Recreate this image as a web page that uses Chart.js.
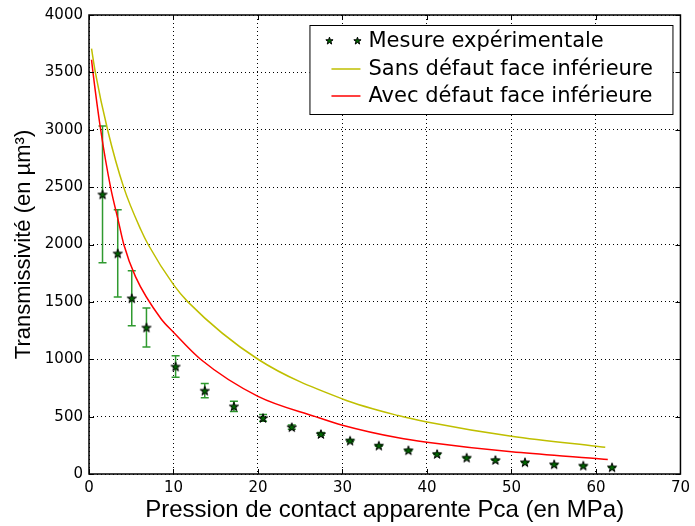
<!DOCTYPE html>
<html>
<head>
<meta charset="utf-8">
<script src="https://cdn.jsdelivr.net/npm/chart.js@4.4.0/dist/chart.umd.min.js"></script>
<style>
    html, body { margin: 0; padding: 0; background: #fff; }
    #chart { display: block; }
</style>
</head>
<body>
<canvas id="chart" width="695" height="526"></canvas>
<script>
const pressionMesure = [1.6, 3.4, 5.06, 6.8, 10.25, 13.7, 17.15, 20.6, 24.0, 27.45, 30.9, 34.3, 37.8, 41.2, 44.7, 48.1, 51.6, 55.05, 58.5, 61.9];
const transMesure = [2437, 1923, 1532, 1277, 937, 727, 590, 489, 409, 349, 291, 248, 207, 175, 143, 123, 103, 85, 74, 59];
const erreurMesure = [596, 380, 240, 170, 94, 62, 45, 30, 18, 12, 9, 7, 6, 5, 4, 4, 3, 3, 3, 3];

// Modèle sans défaut face inférieure
const pressionSans = [0.3, 0.75, 2.2, 4.1, 6.15, 7.0, 10, 11.7, 20, 30, 36.6, 40, 50, 60, 61.1];
const transSans = [3706, 3500, 3000, 2500, 2126, 2000, 1650, 1500, 1000, 654, 509, 454, 329, 242, 233];

// Modèle avec défaut face inférieure
const pressionAvec = [0.3, 0.47, 1.38, 2.55, 3.45, 4.12, 5.5, 8.5, 10, 13.2, 20, 26.8, 30, 36.6, 40, 50, 60, 61.4];
const transAvec = [3610, 3500, 3000, 2500, 2213, 2000, 1720, 1355, 1235, 1000, 677, 500, 425, 315, 277, 193, 135, 126];

const xTicks = [0, 10, 20, 30, 40, 50, 60, 70];
const yTicks = [0, 500, 1000, 1500, 2000, 2500, 3000, 3500, 4000];

const labels = ['Mesure expérimentale', 'Sans défaut face inférieure', 'Avec défaut face inférieure'];

function drawStar(ctx, cx, cy, r, fill) {
    ctx.beginPath();
    for (let i = 0; i < 10; i++) {
        const rad = i % 2 === 0 ? r : r * 0.4;
        const a = -Math.PI / 2 + i * Math.PI / 5;
        const px = cx + rad * Math.cos(a);
        const py = cy + rad * Math.sin(a);
        if (i === 0) ctx.moveTo(px, py); else ctx.lineTo(px, py);
    }
    ctx.closePath();
    ctx.fillStyle = fill;
    ctx.fill();
    ctx.lineWidth = 1;
    ctx.strokeStyle = '#000';
    ctx.stroke();
}

function makeStar(r) {
    const c = document.createElement('canvas');
    const s = Math.ceil(r * 2 + 4);
    c.width = s;
    c.height = s;
    drawStar(c.getContext('2d'), s / 2, s / 2 + 0.5, r, '#006400');
    return c;
}

const starImg = makeStar(4.8);

// barres d'erreur sous les étoiles
const errorBars = {
    id: 'errorBars',
    beforeDatasetsDraw(chart) {
        const {ctx, scales: {x, y}} = chart;
        ctx.save();
        ctx.strokeStyle = '#2f9a2f';
        ctx.lineWidth = 1.5;
        pressionMesure.forEach((p, i) => {
            const px = x.getPixelForValue(p);
            const top = y.getPixelForValue(transMesure[i] + erreurMesure[i]);
            const bot = y.getPixelForValue(transMesure[i] - erreurMesure[i]);
            ctx.beginPath();
            ctx.moveTo(px, top); ctx.lineTo(px, bot);
            ctx.moveTo(px - 4, top); ctx.lineTo(px + 4, top);
            ctx.moveTo(px - 4, bot); ctx.lineTo(px + 4, bot);
            ctx.stroke();
        });
        ctx.restore();
    }
};

// cadre + petites graduations vers l'intérieur + légende
const frameAndLegend = {
    id: 'frameAndLegend',
    afterDraw(chart) {
        const {ctx, chartArea: a, scales: {x, y}} = chart;
        ctx.save();
        ctx.strokeStyle = '#000';
        ctx.lineWidth = 1;
        ctx.beginPath();
        xTicks.forEach(v => {
            const px = Math.round(x.getPixelForValue(v)) + 0.5;
            ctx.moveTo(px, a.bottom); ctx.lineTo(px, a.bottom - 5);
            ctx.moveTo(px, a.top); ctx.lineTo(px, a.top + 5);
        });
        yTicks.forEach(v => {
            const py = Math.round(y.getPixelForValue(v)) + 0.5;
            ctx.moveTo(a.left, py); ctx.lineTo(a.left + 5, py);
            ctx.moveTo(a.right, py); ctx.lineTo(a.right - 5, py);
        });
        ctx.stroke();
        ctx.lineWidth = 1.5;
        ctx.strokeRect(a.left, a.top, a.right - a.left, a.bottom - a.top);

        // légende
        const bx = a.right - 371, by = a.top + 10, bw = 363, bh = 89;
        ctx.fillStyle = '#fff';
        ctx.fillRect(bx, by, bw, bh);
        ctx.lineWidth = 1;
        ctx.strokeRect(bx + 0.5, by + 0.5, bw, bh);

        const ds = chart.data.datasets;
        const rowY = [by + 16, by + 44, by + 71];
        drawStar(ctx, bx + 20, rowY[0], 3.8, '#006400');
        drawStar(ctx, bx + 48, rowY[0], 3.8, '#006400');
        [1, 2].forEach(k => {
            ctx.strokeStyle = ds[k].borderColor;
            ctx.lineWidth = 1.5;
            ctx.beginPath();
            ctx.moveTo(bx + 22, rowY[k]);
            ctx.lineTo(bx + 51, rowY[k]);
            ctx.stroke();
        });
        ctx.fillStyle = '#000';
        ctx.font = '21px "DejaVu Sans"';
        ctx.textBaseline = 'middle';
        ds.forEach((d, k) => ctx.fillText(d.label, bx + 59, rowY[k] + 1));
        ctx.restore();
    }
};

new Chart(document.getElementById('chart'), {
    type: 'scatter',
    data: {
        datasets: [{
            label: labels[0],
            data: pressionMesure.map((p, i) => ({x: p, y: transMesure[i]})),
            pointStyle: starImg,
            showLine: false,
            order: 0
        }, {
            label: labels[1],
            data: pressionSans.map((p, i) => ({x: p, y: transSans[i]})),
            borderColor: '#bfbf00',
            borderWidth: 1.5,
            pointRadius: 0,
            showLine: true,
            cubicInterpolationMode: 'monotone',
            order: 2
        }, {
            label: labels[2],
            data: pressionAvec.map((p, i) => ({x: p, y: transAvec[i]})),
            borderColor: '#ff0000',
            borderWidth: 1.5,
            pointRadius: 0,
            showLine: true,
            cubicInterpolationMode: 'monotone',
            order: 1
        }]
    },
    options: {
        responsive: false,
        animation: false,
        layout: { padding: { top: 14, right: 11, bottom: 0, left: 0 } },
        plugins: {
            legend: { display: false },
            tooltip: { enabled: false }
        },
        scales: {
            x: {
                type: 'linear',
                min: 0,
                max: 70,
                afterBuildTicks: s => { s.ticks = xTicks.map(v => ({value: v})); },
                afterFit: s => { s.height = 52; },
                ticks: {
                    color: '#000',
                    padding: 5,
                    maxRotation: 0,
                    callback: v => String(v),
                    font: { family: 'DejaVu Sans', size: 15 }
                },
                grid: { color: '#000', lineWidth: 1, drawTicks: false },
                border: { display: false, dash: [1, 3] },
                title: {
                    display: true,
                    text: 'Pression de contact apparente Pca (en MPa)',
                    color: '#000',
                    font: { family: 'Liberation Sans', size: 24 },
                    padding: { top: 0, bottom: 1 }
                }
            },
            y: {
                type: 'linear',
                min: 0,
                max: 4000,
                afterBuildTicks: s => { s.ticks = yTicks.map(v => ({value: v})); },
                afterFit: s => { s.width = 89; },
                ticks: {
                    color: '#000',
                    padding: 6,
                    callback: v => String(v),
                    font: { family: 'DejaVu Sans', size: 15 }
                },
                grid: { color: '#000', lineWidth: 1, drawTicks: false },
                border: { display: false, dash: [1, 3] },
                title: {
                    display: true,
                    text: 'Transmissivité (en µm³)',
                    color: '#000',
                    font: { family: 'Liberation Sans', size: 22 },
                    padding: { top: 11, bottom: 0 }
                }
            }
        }
    },
    plugins: [errorBars, frameAndLegend]
});
</script>
</body>
</html>
